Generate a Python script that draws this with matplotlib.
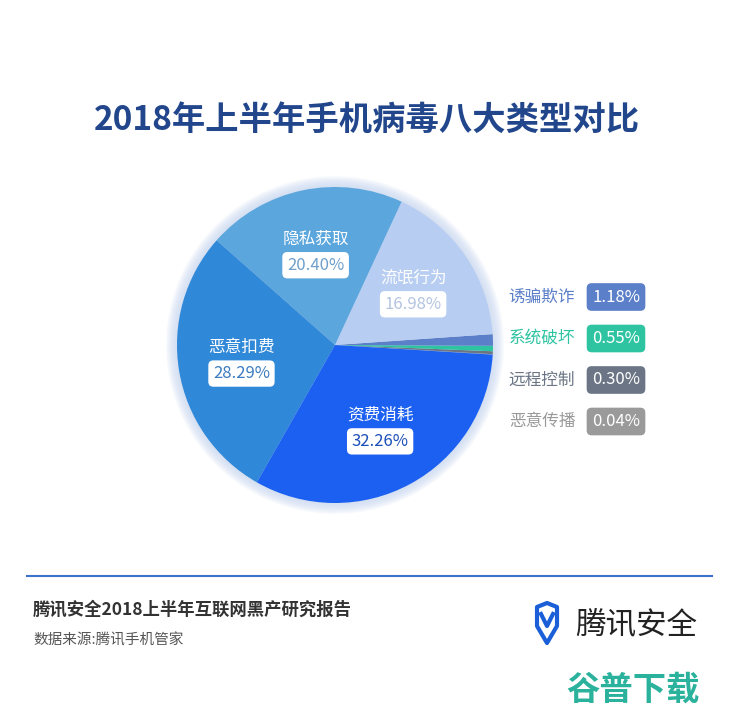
import matplotlib
matplotlib.use("Agg")
import matplotlib.pyplot as plt
from matplotlib.patches import Circle, Polygon
import numpy as np

plt.rcParams['font.family'] = ['Noto Sans CJK SC', 'DejaVu Sans']

# data, counterclockwise from the right edge
names = ["恶意传播", "远程控制", "系统破坏", "诱骗欺诈", "流氓行为", "隐私获取", "恶意扣费", "资费消耗"]
shares = [0.04, 0.30, 0.55, 1.18, 16.98, 20.40, 28.29, 32.26]
colors = ["#9a9a9a", "#6b7585", "#2ec4a2", "#5b7fc8", "#b7cdf1", "#5ba6dd", "#2f88d8", "#1b60f0"]
big = ["流氓行为", "隐私获取", "恶意扣费", "资费消耗"]
big_txt = ["#b2c4e0", "#6e9fca", "#3b7cc0", "#1c4fb8"]
small = ["诱骗欺诈", "系统破坏", "远程控制", "恶意传播"]

W, H = 740, 719
fig = plt.figure(figsize=(W / 100, H / 100), dpi=100)
ax = fig.add_axes([0, 0, 1, 1])

cx, cy, R = 335, 345, 158

# soft halo around the pie
for i in range(11, 0, -1):
    ax.add_patch(Circle((cx, cy), R + i, color="#c9d9f2", alpha=0.11, lw=0, zorder=1))

# y axis is inverted, so draw clockwise in data space
wedges, _ = ax.pie(shares, colors=colors, startangle=3.5, counterclock=False,
                   center=(cx, cy), radius=R, wedgeprops=dict(lw=0), frame=True)
for w in wedges:
    w.set_zorder(2)
ax.set_xlim(0, W)
ax.set_ylim(H, 0)
ax.set_aspect('equal')
ax.axis('off')

for w, n, s in zip(wedges, names, shares):
    if n not in big:
        continue
    mid = np.deg2rad((w.theta1 + w.theta2) / 2)
    x = cx + 0.6 * R * np.cos(mid)
    y = cy + 0.6 * R * np.sin(mid)
    tc = big_txt[big.index(n)]
    ax.text(x, y - 13, n, color="white", fontsize=12, ha='center', va='center', zorder=5)
    ax.text(x, y + 13, "%.2f%%" % s, color=tc, fontsize=12, ha='center', va='center', zorder=5,
            bbox=dict(boxstyle="round,pad=0.28,rounding_size=0.3", fc="white", ec="none"))

# legend for the thin slices
for i, n in enumerate(small):
    k = names.index(n)
    y = 297 + i * 41.5
    ax.text(542, y, n, color=colors[k], fontsize=12, ha='center', va='center')
    ax.text(616, y, "%.2f%%" % shares[k], color="white", fontsize=12, ha='center', va='center',
            bbox=dict(boxstyle="round,pad=0.32,rounding_size=0.3", fc=colors[k], ec="none"))

ax.text(367, 120, "2018年上半年手机病毒八大类型对比", color="#22468c", fontsize=24,
        fontweight='bold', ha='center', va='center')

# footer
ax.plot([27, 712], [576, 576], color="#3d72cc", lw=1.5)
ax.text(33, 610, "腾讯安全2018上半年互联网黑产研究报告", color="#333333", fontsize=12.5,
        fontweight='bold', ha='left', va='center')
ax.text(33, 640, "数据来源:腾讯手机管家", color="#555555", fontsize=10.5, ha='left', va='center')

shield = [(537, 607), (547, 603), (557, 607), (557, 626), (547, 643), (537, 626)]
ax.add_patch(Polygon(shield, closed=True, fc="none", ec="#1a5fd8", lw=3, joinstyle='round'))
ax.plot([541, 547, 553], [614, 626, 614], color="#1a5fd8", lw=3, solid_joinstyle='round')
ax.text(575, 625, "腾讯安全", color="#222222", fontsize=22, fontweight='medium',
        ha='left', va='center')

ax.text(633, 690, "谷普下载", color="#2bb29c", fontsize=24, fontweight='bold', ha='center', va='center')

fig.savefig("out.png", dpi=100, facecolor="white")
